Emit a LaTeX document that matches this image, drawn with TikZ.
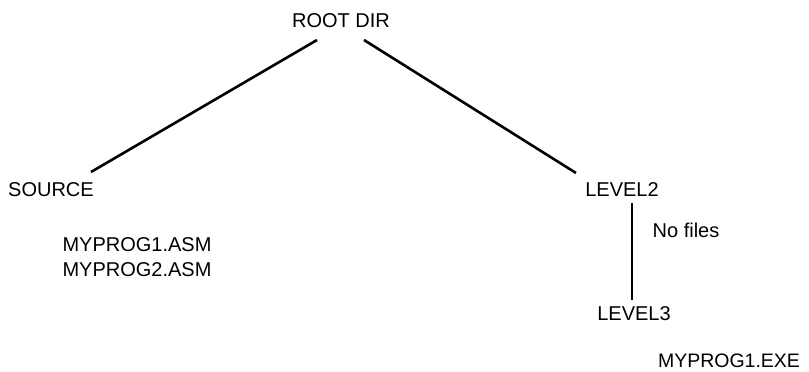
\documentclass[tikz,border=0pt]{standalone}
\usepackage{fontspec}
\setmainfont{Liberation Sans}
\begin{document}
\begin{tikzpicture}[x=1pt,y=-1pt,
  lbl/.style={inner sep=0pt,font=\fontsize{20}{22}\selectfont},
  edge/.style={line width=2.6pt}]
\useasboundingbox (0,0) rectangle (809,372);
\node[lbl] (root) at (341,21) {ROOT DIR};
\node[lbl] (source) at (51,190) {SOURCE};
\node[lbl,align=left,font=\fontsize{20}{25}\selectfont] (asm) at (137,257) {MYPROG1.ASM\\MYPROG2.ASM};
\node[lbl] (level2) at (622,190) {LEVEL2};
\node[lbl] (nofiles) at (686,230) {No files};
\node[lbl] (level3) at (634,314) {LEVEL3};
\node[lbl,font=\fontsize{19.5}{22}\selectfont] (exe) at (729,361) {MYPROG1.EXE};
\coordinate (rl) at (317,40);
\coordinate (rr) at (364,40);
\coordinate (sl) at (91,172);
\coordinate (l2) at (576,173);
\coordinate (vt) at (632,203);
\coordinate (vb) at (632,300);
\draw[edge] (rl) -- (sl);
\draw[edge] (rr) -- (l2);
\draw[edge] (vt) -- (vb);
\end{tikzpicture}
\end{document}
